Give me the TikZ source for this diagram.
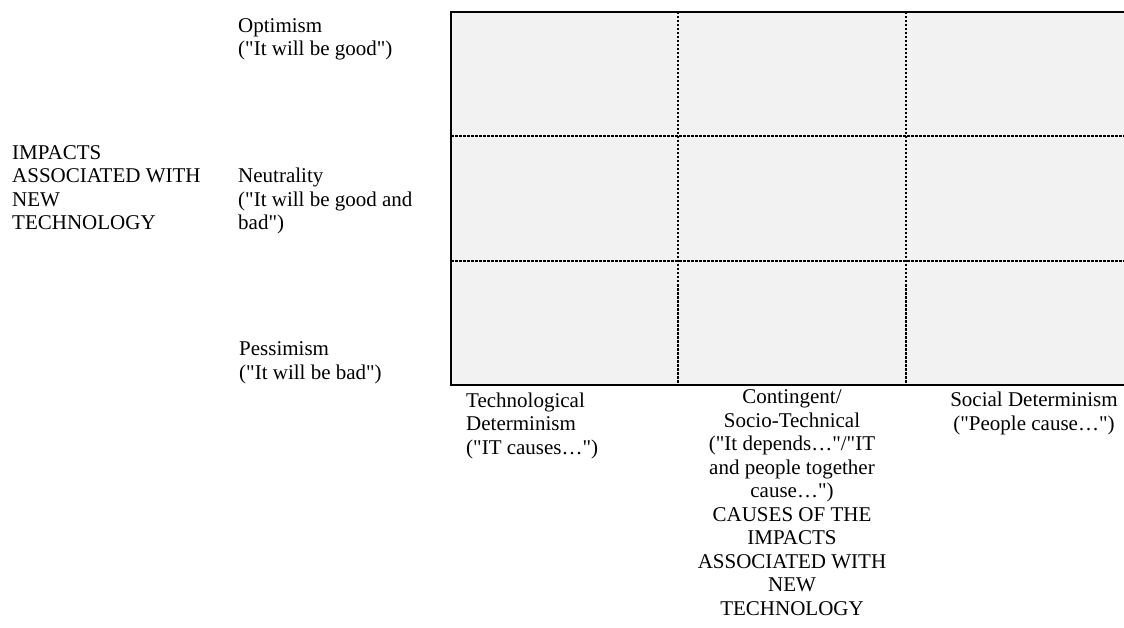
\documentclass[tikz,border=0pt]{standalone}
\usepackage{fontspec}
\setmainfont{Liberation Serif}[Ligatures=TeXOff]
\tikzset{
  lbl/.style={inner sep=0pt, font=\fontsize{21}{23.5}\selectfont},
  frame/.style={line width=2.4pt, line cap=rect},
  gridline/.style={line width=1.6pt, dash pattern=on 2.5pt off 1.5pt},
}
\definecolor{cellgray}{HTML}{F2F2F2}
\begin{document}
\begin{tikzpicture}[x=1pt,y=-1pt]
    \useasboundingbox (0,0) rectangle (1124,628);
    % the 3x3 grid
    \fill[cellgray] (451,12) rectangle (1124,385);
    \draw[gridline] (678,12) -- (678,385) (906,12) -- (906,385);
    \draw[gridline] (451,136) -- (1124,136) (451,261) -- (1124,261);
    \draw[frame] (1124,12) -- (451,12) -- (451,385) -- (1124,385);
    % row labels (placed by the baseline of their last line)
    \path (12,230) node[lbl,anchor=base west,align=left](impacts){IMPACTS\\ASSOCIATED WITH\\NEW\\TECHNOLOGY};
    \path (238,56) node[lbl,anchor=base west,align=left](optimism){Optimism\\("It will be good")};
    \path (238,230) node[lbl,anchor=base west,align=left](neutrality){Neutrality\\("It will be good and\\bad")};
    \path (239,379) node[lbl,anchor=base west,align=left](pessimism){Pessimism\\("It will be bad")};
    % column labels
    \path (466,454) node[lbl,anchor=base west,align=left](techdet){Technological\\Determinism\\("IT causes…")};
    \path (792,615) node[lbl,anchor=base,align=center](contingent){Contingent/\\Socio-Technical\\("It depends…"/"IT\\and people together\\cause…")\\CAUSES OF THE\\IMPACTS\\ASSOCIATED WITH\\NEW\\TECHNOLOGY};
    \path (1034,430) node[lbl,anchor=base,align=center](socialdet){Social Determinism\\("People cause…")};
\end{tikzpicture}
\end{document}
